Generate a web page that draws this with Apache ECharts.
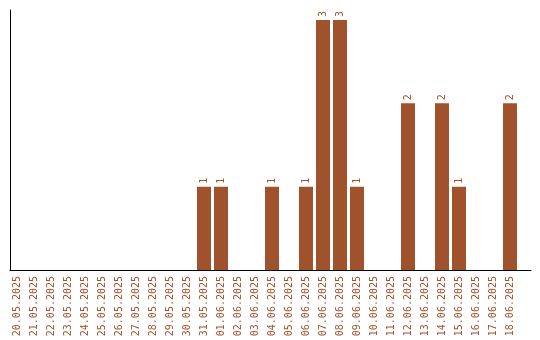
<!DOCTYPE html>
<html><head><meta charset="utf-8">
<script src="https://cdn.jsdelivr.net/npm/echarts@6/dist/echarts.min.js"></script>
<style>html,body{margin:0;padding:0;background:#fff}#c{width:540px;height:340px}</style>
</head><body><div id="c"></div>
<script>
var categories = ["20.05.2025","21.05.2025","22.05.2025","23.05.2025","24.05.2025","25.05.2025","26.05.2025","27.05.2025","28.05.2025","29.05.2025","30.05.2025","31.05.2025","01.06.2025","02.06.2025","03.06.2025","04.06.2025","05.06.2025","06.06.2025","07.06.2025","08.06.2025","09.06.2025","10.06.2025","11.06.2025","12.06.2025","13.06.2025","14.06.2025","15.06.2025","16.06.2025","17.06.2025","18.06.2025"];
var values = [0,0,0,0,0,0,0,0,0,0,0,1,1,0,0,1,0,1,3,3,1,0,0,2,0,2,1,0,0,2];
var color = '#a0522d';
var font = '"DejaVu Sans Mono", monospace';
var chart = echarts.init(document.getElementById('c'));
chart.setOption({
  animation: false,
  grid: [
    {left: 8.5, width: 510, top: 10, height: 260},
    {left: 10, right: 9, top: 10, height: 260}
  ],
  xAxis: [
    {type: 'category', data: categories, gridIndex: 0,
     axisLine: {show: false}, axisTick: {show: false},
     axisLabel: {rotate: 90, interval: 0, margin: 6, color: color, fontSize: 10, fontFamily: font}},
    {type: 'value', gridIndex: 1, min: 0, max: 1, axisLine: {show: true, lineStyle: {color: '#000', width: 1}},
     axisTick: {show: false}, axisLabel: {show: false}, splitLine: {show: false}}
  ],
  yAxis: [
    {type: 'value', gridIndex: 0, min: 0, max: 3.12, show: false},
    {type: 'value', gridIndex: 1, min: 0, max: 1, axisLine: {show: true, lineStyle: {color: '#000', width: 1}},
     axisTick: {show: false}, axisLabel: {show: false}, splitLine: {show: false}}
  ],
  series: [{
    type: 'bar', xAxisIndex: 0, yAxisIndex: 0,
    data: values.map(function(v){ return v === 0 ? null : v; }),
    barWidth: 14,
    itemStyle: {color: color},
    label: {show: true, position: 'top', rotate: 90, align: 'left', verticalAlign: 'middle', distance: 3,
      color: color, fontSize: 10, fontFamily: font}
  }]
});
</script></body></html>
